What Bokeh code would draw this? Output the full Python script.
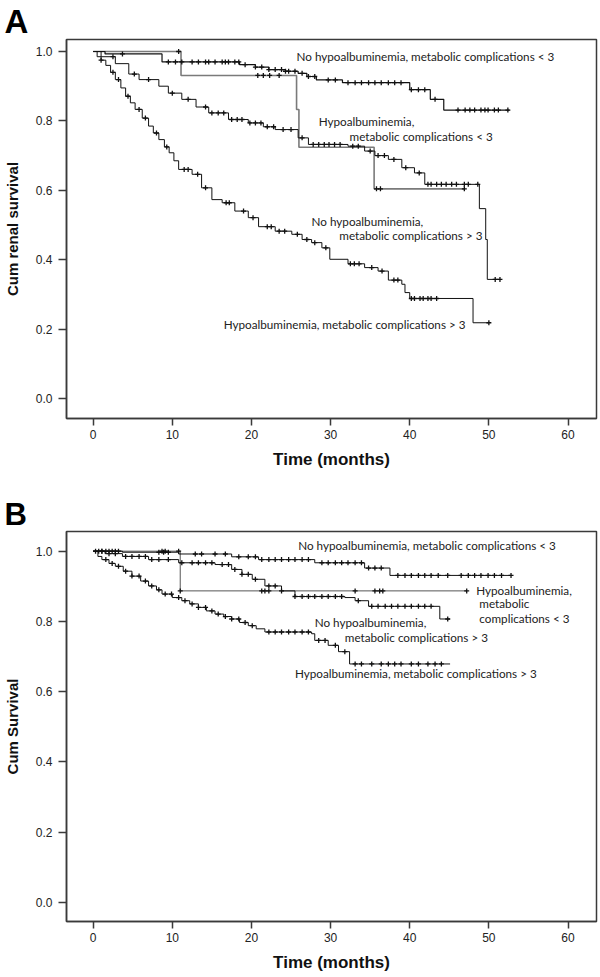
import numpy as np
from bokeh.plotting import figure
from bokeh.models import FixedTicker, NumeralTickFormatter, Title
from bokeh.layouts import column
from bokeh.embed import file_html
from bokeh.resources import INLINE
from bokeh.core.properties import value

# ---------------- Panel A: renal survival ----------------
a1_time = [0, 1.5, 8.7, 18.5, 20.5, 22.2, 24.3, 25.9, 27.0, 28.2, 31.5, 40.0, 42.6, 44.3, 52.6]
a1_surv = [1.0, 0.993, 0.970, 0.962, 0.955, 0.948, 0.943, 0.937, 0.928, 0.918, 0.910, 0.890, 0.862, 0.831, 0.831]
a1_cens = [3.7, 9.5, 10.4, 11.2, 12.5, 13.3, 14.2, 14.6, 15.4, 16.3, 16.7, 17.1, 17.9, 18.4, 19.2, 20.5,
           21.3, 22.2, 23.0, 23.8, 24.3, 24.7, 25.5, 26.4, 27.2, 28.0, 29.7, 30.6, 32.2, 33.1, 33.9, 34.8,
           35.6, 36.4, 37.3, 38.1, 38.9, 40.2, 41.1, 41.9, 43.2, 46.1, 47.0, 47.6, 48.2, 49.0, 49.5, 49.9,
           50.7, 51.2, 52.4]

a2_time = [0, 11.1, 25.7, 26.0, 35.5, 46.9]
a2_surv = [1.0, 0.931, 0.833, 0.724, 0.604, 0.604]
a2_cens = [10.8, 20.8, 21.5, 22.3, 23.5, 35.8, 36.3, 46.9]

a3_time = [0, 1.0, 2.8, 4.5, 5.8, 8.3, 9.5, 11.2, 13.0, 14.6, 17.1, 19.6, 21.5, 23.0, 25.9, 27.2, 32.2,
           34.3, 35.6, 37.3, 39.0, 40.6, 41.9, 48.8, 49.6, 49.8, 51.4]
a3_surv = [1.0, 0.985, 0.965, 0.935, 0.919, 0.900, 0.880, 0.862, 0.840, 0.823, 0.804, 0.794, 0.783, 0.775,
           0.751, 0.732, 0.727, 0.713, 0.700, 0.689, 0.665, 0.650, 0.617, 0.547, 0.458, 0.343, 0.343]
a3_cens = [2.5, 5.2, 7.0, 10.0, 12.0, 14.2, 15.0, 15.8, 16.5, 17.5, 18.2, 18.8, 19.8, 20.5, 21.2, 22.0,
           22.8, 24.0, 25.0, 26.4, 27.8, 28.5, 29.2, 29.8, 30.5, 31.2, 32.8, 33.5, 35.0, 36.0, 36.8, 38.0,
           39.5, 41.2, 42.3, 42.7, 43.4, 44.0, 44.6, 45.3, 45.9, 46.9, 47.4, 48.6, 50.8, 51.4]

a4_time = [0, 0.5, 1.0, 1.6, 2.2, 2.8, 3.5, 4.1, 4.7, 5.3, 6.2, 7.0, 7.6, 8.3, 9.0, 9.6, 10.2, 10.8, 12.5,
           13.7, 15.0, 16.3, 17.9, 19.6, 20.9, 23.0, 25.1, 26.4, 27.6, 28.9, 29.9, 32.2, 34.3, 36.0, 37.3,
           39.0, 39.4, 40.0, 48.0, 50.0]
a4_surv = [1.0, 0.985, 0.975, 0.960, 0.940, 0.919, 0.895, 0.871, 0.852, 0.833, 0.808, 0.785, 0.765, 0.746,
           0.725, 0.708, 0.685, 0.660, 0.646, 0.607, 0.573, 0.564, 0.540, 0.521, 0.495, 0.482, 0.473, 0.458,
           0.449, 0.434, 0.401, 0.388, 0.377, 0.367, 0.341, 0.329, 0.305, 0.288, 0.218, 0.218]
a4_cens = [1.0, 2.5, 3.2, 4.4, 5.8, 6.6, 8.0, 9.3, 11.5, 12.0, 13.2, 14.2, 16.8, 17.2, 19.0, 20.2, 22.0,
           22.5, 23.5, 24.2, 25.8, 27.0, 28.0, 29.4, 32.5, 33.0, 33.6, 35.2, 36.5, 38.0, 38.5, 40.2, 40.6,
           41.3, 41.7, 42.3, 42.7, 43.4, 50.0]

# ---------------- Panel B: survival ----------------
b1_time = [0, 3.7, 10.8, 17.5, 20.9, 28.0, 34.3, 37.5, 52.8]
b1_surv = [1.0, 0.997, 0.992, 0.984, 0.976, 0.967, 0.952, 0.931, 0.931]
b1_cens = [0.3, 0.7, 1.1, 1.6, 2.0, 2.4, 2.8, 3.2, 8.3, 8.9, 9.5, 12.9, 13.7, 15.4, 16.7, 18.4, 19.6,
           20.5, 21.3, 22.2, 23.0, 23.8, 24.7, 25.5, 26.4, 27.2, 28.9, 29.7, 30.6, 31.4, 32.2, 33.1, 33.9,
           34.8, 35.6, 36.4, 38.5, 39.4, 40.2, 41.1, 41.9, 42.7, 43.6, 44.8, 46.5, 47.4, 48.2, 49.0, 49.9,
           50.7, 51.6, 52.8]

b2_time = [0, 11.0, 47.2]
b2_surv = [1.0, 0.887, 0.887]
b2_cens = [8.7, 9.1, 10.8, 11.0, 21.3, 21.7, 22.2, 33.1, 35.6, 36.2, 36.6, 47.2]

b3_time = [0, 1.5, 3.7, 7.0, 10.8, 15.4, 17.5, 18.8, 20.1, 21.7, 23.8, 25.5, 31.8, 33.1, 34.8, 43.8, 45.1]
b3_surv = [1.0, 0.993, 0.985, 0.976, 0.967, 0.962, 0.948, 0.934, 0.920, 0.901, 0.887, 0.871, 0.868,
           0.859, 0.843, 0.807, 0.807]
b3_cens = [1.1, 2.0, 2.8, 4.1, 4.9, 5.8, 6.6, 7.4, 8.3, 9.5, 11.2, 12.5, 13.3, 14.2, 15.0, 16.3, 17.1,
           17.9, 18.8, 19.6, 20.5, 22.2, 23.0, 23.8, 25.5, 26.4, 27.2, 28.0, 28.9, 29.7, 30.6, 31.4, 33.5,
           35.2, 36.0, 36.9, 37.7, 38.5, 39.4, 40.2, 41.1, 41.9, 42.7, 44.8]

b4_time = [0, 0.6, 1.1, 2.0, 2.8, 3.8, 4.9, 6.0, 7.0, 8.0, 8.7, 10.0, 11.2, 12.2, 13.3, 14.3, 15.4, 16.5,
           17.5, 18.5, 19.6, 20.6, 21.7, 27.6, 28.0, 29.7, 31.0, 32.4, 45.1]
b4_surv = [1.0, 0.985, 0.976, 0.965, 0.957, 0.943, 0.929, 0.915, 0.901, 0.890, 0.878, 0.868, 0.859, 0.850,
           0.840, 0.830, 0.821, 0.814, 0.807, 0.797, 0.788, 0.779, 0.770, 0.765, 0.746, 0.732, 0.714,
           0.679, 0.679]
b4_cens = [1.6, 2.4, 3.2, 4.1, 4.9, 5.8, 6.6, 7.4, 8.3, 9.1, 9.9, 10.8, 11.6, 12.5, 13.3, 14.2, 15.0, 15.8,
           16.7, 17.5, 18.4, 19.2, 20.1, 22.2, 23.0, 23.8, 24.7, 25.5, 26.4, 27.2, 28.5, 29.3, 30.6, 31.8,
           33.1, 33.9, 35.2, 36.4, 37.3, 38.1, 38.9, 40.2, 41.1, 42.3, 43.2, 44.0]

x_ticks = [0, 10, 20, 30, 40, 50, 60]
y_ticks = [0.0, 0.2, 0.4, 0.6, 0.8, 1.0]

TICK_FONT = "Liberation Sans"
ANN_FONT = "Lato"


def surv_at(times, survs, cens):
    idx = np.searchsorted(np.array(times), np.array(cens), side="right") - 1
    return list(np.array(survs)[idx])


def make_fig(panel, y_label, y_rng, top, fh, bottom, letter_size):
    p = figure(frame_width=530, frame_height=fh, x_range=(-3.37, 63.6), y_range=y_rng,
               output_backend="svg", toolbar_location=None,
               min_border_left=64, min_border_right=5, min_border_top=top, min_border_bottom=bottom,
               background_fill_color="white", border_fill_color="white",
               title=Title(text=panel, align="left", offset=-62, standoff=0,
                           text_font=TICK_FONT, text_font_size=letter_size,
                           text_font_style="bold", text_color="#000000",
                           vertical_align="bottom"))
    p.grid.visible = False
    p.outline_line_color = "#3a3a3a"
    p.outline_line_width = 1.5
    p.xaxis.ticker = FixedTicker(ticks=x_ticks)
    p.yaxis.ticker = FixedTicker(ticks=y_ticks)
    p.yaxis.formatter = NumeralTickFormatter(format="0.0")
    for ax in (p.xaxis, p.yaxis):
        ax.axis_line_color = "#3a3a3a"
        ax.axis_line_width = 1.5
        ax.major_tick_in = 0
        ax.major_tick_out = 7
        ax.major_tick_line_color = "#3a3a3a"
        ax.major_tick_line_width = 1.5
        ax.minor_tick_line_color = None
        ax.major_label_text_font = TICK_FONT
        ax.major_label_text_font_size = "12px"
        ax.major_label_text_color = "#222222"
        ax.axis_label_text_font = TICK_FONT
        ax.axis_label_text_font_style = "bold"
        ax.axis_label_text_color = "#111111"
    p.xaxis.major_label_standoff = 4
    p.xaxis.axis_label = "Time (months)"
    p.xaxis.axis_label_text_font_size = "17px"
    p.xaxis.axis_label_standoff = 8
    p.yaxis.major_tick_out = 8
    p.yaxis.major_label_standoff = 6
    p.yaxis.axis_label = y_label
    p.yaxis.axis_label_text_font_size = "15px"
    p.yaxis.axis_label_standoff = 12
    return p


def add_curve(p, times, survs, cens, color, width):
    p.step(x=times, y=survs, mode="after", line_color=color, line_width=width)
    p.scatter(x=cens, y=surv_at(times, survs, cens), marker="cross", size=5,
              line_color="#111111", line_width=1.3)


def add_texts(p, xs, ys, texts):
    p.text(x=xs, y=ys, text=texts, text_font=value(ANN_FONT), text_font_size="11.7px",
           text_baseline="middle", text_align="left", text_color="#222222")


# Panel A
pA = make_fig("A", "Cum renal survival", (-0.058, 1.0346), 33, 379, 70, "33px")
add_curve(pA, a2_time, a2_surv, a2_cens, "#7a7a7a", 1.6)
add_curve(pA, a1_time, a1_surv, a1_cens, "#111111", 1.2)
add_curve(pA, a3_time, a3_surv, a3_cens, "#111111", 1.0)
add_curve(pA, a4_time, a4_surv, a4_cens, "#111111", 1.0)
add_texts(pA,
          [25.7, 28.5, 32.4, 27.6, 31.1, 16.5],
          [0.986, 0.799, 0.756, 0.511, 0.470, 0.213],
          ["No hypoalbuminemia, metabolic complications < 3",
           "Hypoalbuminemia,", "metabolic complications < 3",
           "No hypoalbuminemia,", "metabolic complications > 3",
           "Hypoalbuminemia, metabolic complications > 3"])

# Panel B
pB = make_fig("B", "Cum Survival", (-0.054, 1.056), 43, 390, 54, "31px")
add_curve(pB, b2_time, b2_surv, b2_cens, "#555555", 1.0)
add_curve(pB, b1_time, b1_surv, b1_cens, "#111111", 1.0)
add_curve(pB, b3_time, b3_surv, b3_cens, "#111111", 1.0)
add_curve(pB, b4_time, b4_surv, b4_cens, "#111111", 1.0)
add_texts(pB,
          [25.9, 48.4, 48.8, 48.8, 28.0, 31.8, 25.5],
          [1.018, 0.890, 0.852, 0.810, 0.798, 0.756, 0.653],
          ["No hypoalbuminemia, metabolic complications < 3",
           "Hypoalbuminemia,", "metabolic", "complications < 3",
           "No hypoalbuminemia,", "metabolic complications > 3",
           "Hypoalbuminemia, metabolic complications > 3"])

layout = column(pA, pB)
open("out.html", "w").write(file_html(layout, INLINE))
